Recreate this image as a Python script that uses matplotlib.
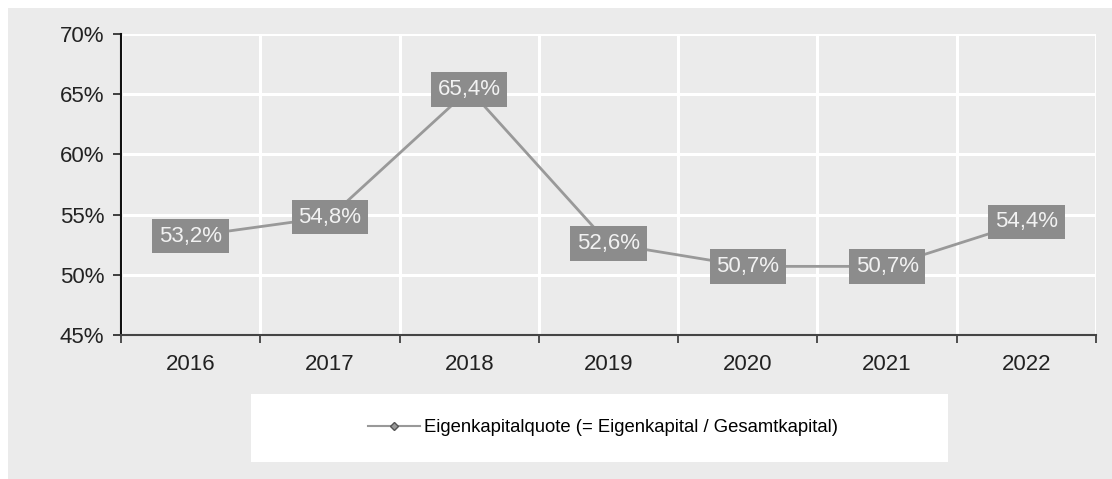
import numpy as np
import matplotlib.pyplot as plt
from matplotlib.patches import Rectangle
from matplotlib.lines import Line2D

# data
years = ['2016', '2017', '2018', '2019', '2020', '2021', '2022']
quote = [53.2, 54.8, 65.4, 52.6, 50.7, 50.7, 54.4]
labels = ['53,2%', '54,8%', '65,4%', '52,6%', '50,7%', '50,7%', '54,4%']
y_ticks = [45, 50, 55, 60, 65, 70]
legend_text = 'Eigenkapitalquote (= Eigenkapital / Gesamtkapital)'

plt.rcParams['font.family'] = ['Liberation Sans', 'DejaVu Sans']

W, H = 1112, 479
bg = '#ebebeb'
fig = plt.figure(figsize=(W / 100, H / 100), dpi=100)
fig.patch.set_facecolor('white')

# grey background, leaving thin white border top/left
fig.patches.append(Rectangle((8 / W, 0), 1 - 8 / W, 1 - 8 / H, transform=fig.transFigure,
                             facecolor=bg, edgecolor='none', zorder=-2))

ax = fig.add_axes([121 / W, 1 - 335 / H, (1096 - 121) / W, (335 - 34) / H])
ax.set_facecolor(bg)

x = np.arange(len(years))
ax.plot(x, quote, color='#999999', linewidth=2, zorder=3)

for xi, yi, lab in zip(x, quote, labels):
    ax.text(xi, yi, lab, ha='center', va='center', fontsize=16, color='#f2f2f2', zorder=4,
            bbox=dict(boxstyle='square,pad=0.3', facecolor='#8c8c8c', edgecolor='none'))

ax.set_xlim(-0.5, len(years) - 0.5)
ax.set_ylim(45, 70)
ax.set_yticks(y_ticks)
ax.set_yticklabels([f'{v}%' for v in y_ticks], fontsize=16, color='#222222')
ax.set_xticks(x)
ax.set_xticklabels(years, fontsize=16, color='#222222')
ax.set_xticks(np.arange(-0.5, len(years)), minor=True)
ax.tick_params(axis='x', which='major', length=0, pad=14)
ax.tick_params(axis='x', which='minor', length=6, width=1.2, color='#333333')
ax.tick_params(axis='y', length=6, width=1.2, color='#222222', pad=6)

ax.grid(True, axis='y', color='white', linewidth=2.2, zorder=1)
ax.grid(True, axis='x', which='minor', color='white', linewidth=2.2, zorder=1)
ax.set_axisbelow(True)

for s in ['top', 'right']:
    ax.spines[s].set_visible(False)
ax.spines['left'].set_color('#111111')
ax.spines['left'].set_linewidth(1.5)
ax.spines['bottom'].set_color('#444444')
ax.spines['bottom'].set_linewidth(1.5)

# legend box
fig.patches.append(Rectangle((251 / W, 1 - 462 / H), (948 - 251) / W, (462 - 394) / H,
                             transform=fig.transFigure, facecolor='white', edgecolor='none', zorder=-1))
handle = Line2D([], [], color='#999999', linewidth=1.5, marker='D', markersize=4,
                markerfacecolor='#999999', markeredgecolor='#555555')
fig.legend([handle], [legend_text], loc='center', bbox_to_anchor=(603 / W, 1 - 428 / H),
           frameon=False, fontsize=13.3, handlelength=2.8, handletextpad=0.2)

fig.savefig('out.png', dpi=100, facecolor=fig.get_facecolor())
